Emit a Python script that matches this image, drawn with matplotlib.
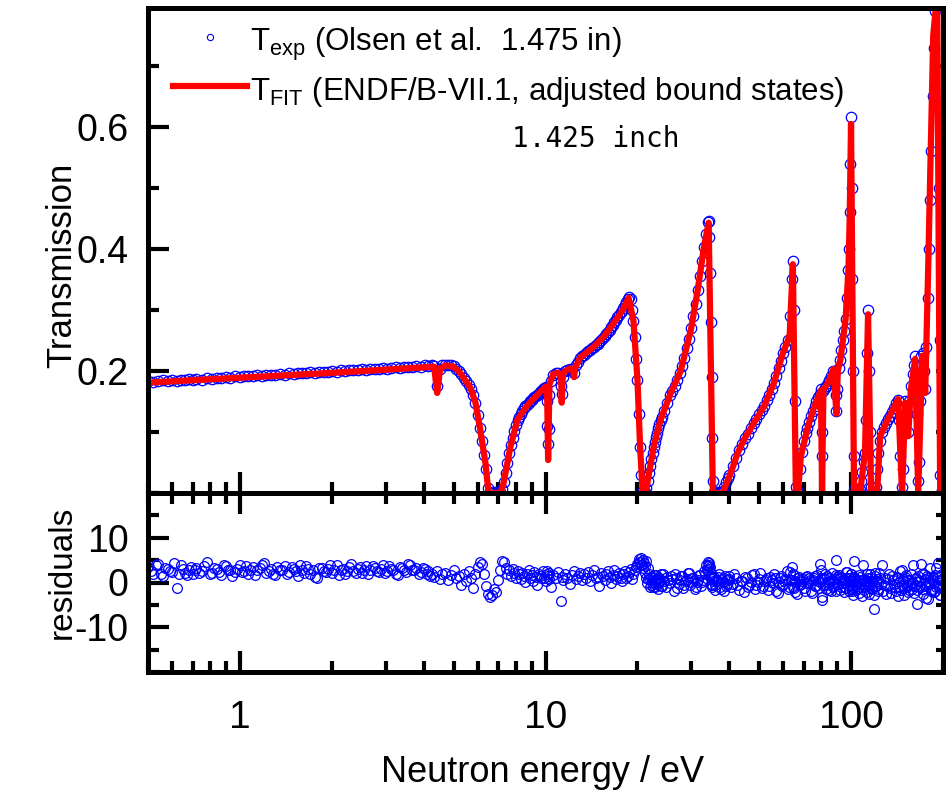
import matplotlib
matplotlib.use("Agg")
import matplotlib.pyplot as plt
from matplotlib.lines import Line2D
from matplotlib.ticker import MultipleLocator, FixedLocator, NullFormatter

plt.rcParams['font.family'] = ['Liberation Sans', 'DejaVu Sans']
plt.rcParams['mathtext.fontset'] = 'custom'
plt.rcParams['mathtext.rm'] = 'Liberation Sans'
plt.rcParams['mathtext.it'] = 'Liberation Sans:italic'
plt.rcParams['axes.unicode_minus'] = False

# measured transmission points (Olsen et al.), energies in eV
e_exp = [
    0.50, 0.52, 0.54, 0.56, 0.58, 0.60, 0.62, 0.64, 0.66, 0.68,
    0.70, 0.72, 0.75, 0.78, 0.81, 0.84, 0.87, 0.90, 0.93, 0.96,
    1.00, 1.03, 1.06, 1.10, 1.14, 1.18, 1.22, 1.26, 1.30, 1.35,
    1.40, 1.45, 1.50, 1.55, 1.60, 1.65, 1.70, 1.76, 1.82, 1.88,
    1.94, 2.00, 2.07, 2.14, 2.21, 2.28, 2.35, 2.43, 2.51, 2.59,
    2.67, 2.76, 2.85, 2.94, 3.03, 3.13, 3.23, 3.33, 3.44, 3.55,
    3.66, 3.78, 3.90, 4.02, 4.14, 4.26,
    4.3, 4.4, 4.5, 4.6, 4.7, 4.8, 4.9, 5.0, 5.1, 5.2,
    5.3, 5.4, 5.5, 5.6, 5.7, 5.8, 5.9, 6.0, 6.1, 6.2,
    6.3, 6.4, 6.5, 6.6, 6.7, 6.8, 6.9, 7.0, 7.1, 7.2,
    7.3, 7.4, 7.5, 7.6, 7.7, 7.8, 7.9, 8.0, 8.1, 8.2,
    8.3, 8.4, 8.5, 8.6, 8.7, 8.8, 8.9, 9.0, 9.1, 9.2,
    9.3, 9.4, 9.5, 9.6, 9.7, 9.8, 9.9, 10.0, 10.1, 10.15,
    10.2, 10.25, 10.3, 10.4, 10.6, 10.8, 11.0, 11.2, 11.3, 11.4,
    11.6, 11.8, 12.0, 12.2, 12.4, 12.6, 12.8, 13.0, 13.2, 13.4,
    13.6, 13.8, 14.0, 14.2, 14.4, 14.6, 14.8, 15.0, 15.2, 15.4,
    15.6, 15.8, 16.0, 16.2, 16.4, 16.6, 16.8, 17.0, 17.2, 17.4,
    17.6, 17.8, 18.0, 18.2, 18.4, 18.6, 18.8, 19.0, 19.2, 19.4,
    19.6, 19.8, 20.0, 20.2, 20.4, 20.6, 20.8, 21.0, 21.2, 21.4,
    21.6, 21.8, 22.0, 22.2, 22.4, 22.6, 22.8, 23.0, 23.2, 23.4,
    23.6, 23.8, 24.0, 24.5, 25.0, 25.5, 26.0, 26.5, 27.0, 27.5,
    28.0, 28.5, 29.0, 29.5, 30.0, 30.5, 31.0, 31.5, 32.0, 32.5,
    33.0, 33.5, 34.0, 34.2, 34.4, 34.6, 34.8, 35.0, 35.2, 35.4,
    35.6, 36.0, 36.5, 37.0, 37.5, 38.0, 38.5, 39.0, 39.5, 40.0,
    41, 42, 43, 44, 45, 46, 47, 48, 49, 50,
    51, 52, 53, 54, 55, 56, 57, 58, 59, 60,
    61, 62, 63, 64, 64.5, 65, 65.5, 66, 67, 68,
    69, 70, 71, 72, 73, 74, 75, 76, 77, 78,
    79, 79.7, 80.2, 80.6, 81, 82, 83, 84, 85, 86,
    87, 88, 89, 89.6, 90, 91, 92, 93, 94, 95,
    96, 97, 98, 98.5, 99, 99.5, 100, 100.5, 101, 101.5,
    102, 102.5, 103, 104, 105, 106, 107, 108, 109, 110,
    111, 112, 113, 113.7, 114.5, 115, 116, 117, 118, 119,
    120, 121, 122, 123, 124, 126, 128, 130, 132, 134,
    136, 138, 140, 142, 143.5, 145, 146.5, 147.5, 149, 150.5,
    152, 153.5, 155, 157, 159, 161, 162.5, 164, 165.5, 166.5,
    168, 170, 171.5, 173, 175, 176.5, 178, 179.5, 181, 183,
    185, 187, 189, 190, 192, 194, 195, 196, 198, 200,
]

t_exp = [
    0.184, 0.182, 0.183, 0.185, 0.183, 0.185, 0.184, 0.186, 0.185, 0.187,
    0.186, 0.187, 0.186, 0.188, 0.187, 0.189, 0.188, 0.190, 0.189, 0.191,
    0.190, 0.192, 0.191, 0.192, 0.193, 0.192, 0.194, 0.193, 0.194, 0.195,
    0.194, 0.196, 0.195, 0.197, 0.196, 0.197, 0.198, 0.197, 0.199, 0.198,
    0.199, 0.200, 0.199, 0.201, 0.200, 0.201, 0.202, 0.201, 0.203, 0.202,
    0.203, 0.204, 0.203, 0.205, 0.204, 0.205, 0.206, 0.205, 0.207, 0.206,
    0.207, 0.208, 0.207, 0.209, 0.208, 0.209,
    0.208, 0.176, 0.203, 0.209, 0.210, 0.209, 0.209, 0.208, 0.204, 0.200,
    0.195, 0.189, 0.183, 0.177, 0.170, 0.160, 0.148, 0.128, 0.107, 0.085,
    0.062, 0.040, 0.008, 0.002, 0.000, 0.001, 0.000, 0.002, 0.001, 0.006,
    0.018, 0.033, 0.049, 0.066, 0.079, 0.090, 0.101, 0.111, 0.120, 0.125,
    0.130, 0.135, 0.139, 0.142, 0.145, 0.147, 0.150, 0.152, 0.155, 0.157,
    0.159, 0.161, 0.163, 0.166, 0.168, 0.170, 0.172, 0.174, 0.150, 0.110,
    0.080, 0.105, 0.160, 0.183, 0.193, 0.196, 0.197, 0.175, 0.162, 0.190,
    0.200, 0.202, 0.204, 0.203, 0.196, 0.209, 0.215, 0.221, 0.224, 0.227,
    0.230, 0.232, 0.235, 0.238, 0.240, 0.243, 0.245, 0.248, 0.251, 0.254,
    0.257, 0.261, 0.264, 0.268, 0.272, 0.276, 0.280, 0.284, 0.288, 0.292,
    0.296, 0.299, 0.303, 0.308, 0.313, 0.318, 0.321, 0.318, 0.300, 0.282,
    0.255, 0.220, 0.185, 0.130, 0.076, 0.030, 0.003, 0.000, 0.001, 0.008,
    0.020, 0.032, 0.045, 0.056, 0.066, 0.076, 0.084, 0.092, 0.099, 0.106,
    0.113, 0.120, 0.125, 0.135, 0.148, 0.160, 0.168, 0.176, 0.185, 0.196,
    0.208, 0.222, 0.238, 0.253, 0.270, 0.290, 0.310, 0.333, 0.355, 0.380,
    0.403, 0.425, 0.445, 0.446, 0.420, 0.360, 0.280, 0.190, 0.090, 0.020,
    0.002, 0.000, 0.001, 0.000, 0.002, 0.004, 0.010, 0.018, 0.025, 0.030,
    0.044, 0.057, 0.070, 0.081, 0.090, 0.097, 0.106, 0.114, 0.122, 0.129,
    0.136, 0.142, 0.152, 0.161, 0.171, 0.181, 0.192, 0.205, 0.217, 0.230,
    0.240, 0.250, 0.290, 0.350, 0.380, 0.300, 0.150, 0.010, 0.002, 0.040,
    0.068, 0.085, 0.098, 0.107, 0.117, 0.126, 0.135, 0.143, 0.150, 0.157,
    0.163, 0.170, 0.060, 0.100, 0.168, 0.172, 0.176, 0.180, 0.186, 0.192,
    0.200, 0.195, 0.160, 0.135, 0.170, 0.205, 0.218, 0.235, 0.250, 0.266,
    0.285, 0.320, 0.365, 0.400, 0.460, 0.540, 0.616, 0.500, 0.350, 0.200,
    0.060, 0.005, 0.000, 0.001, 0.000, 0.002, 0.005, 0.020, 0.035, 0.050,
    0.066, 0.120, 0.230, 0.300, 0.200, 0.100, 0.010, 0.000, 0.001, 0.000,
    0.002, 0.010, 0.040, 0.065, 0.085, 0.100, 0.108, 0.115, 0.121, 0.127,
    0.133, 0.140, 0.147, 0.152, 0.120, 0.060, 0.010, 0.040, 0.110, 0.150,
    0.130, 0.100, 0.150, 0.175, 0.195, 0.210, 0.225, 0.130, 0.020, 0.050,
    0.150, 0.225, 0.230, 0.200, 0.170, 0.240, 0.320, 0.400, 0.480, 0.560,
    0.650, 0.730, 0.790, 0.820, 0.850, 0.500, 0.250, 0.030, 0.005, 0.020,
]

# normalised residuals of the fit at the same energies
resid = [
    3.5, 2.0, 4.2, 1.5, 3.0, 2.4, -1.3, 3.8, 2.2, 2.9,
    1.8, 3.3, 2.6, 4.5, 2.1, 3.0, 1.6, 3.6, 2.8, 2.3,
    3.9, 2.5, 1.9, 3.4, 2.7, 4.0, 2.2, 3.1, 1.7, 2.9,
    3.6, 2.4, 3.0, 1.5, 2.8, 3.7, 2.0, 1.2, 3.3, 2.6,
    3.1, 2.2, 3.8, 2.7, 1.9, 3.4, 2.5, 3.0, 2.1, 3.6,
    2.8, 3.3, 2.4, 3.9, 2.6, 3.1, 2.0, 3.5, 2.9, 4.1,
    2.7, 3.2, 2.3, 3.0, 2.5, 1.8,
    1.2, 2.5, 0.8, 1.9, 2.2, 0.5, 1.6, 2.8, 0.9, 1.4,
    -0.5, 1.8, 0.3, 2.6, 1.1, -1.2, 2.0, 3.5, 4.5, 4.2,
    2.0, -0.8, -2.5, -3.2, -2.8, -1.5, -2.2, 0.5, 2.8, 4.8,
    4.5, 3.2, 2.0, 2.8, 1.5, 3.0, 2.2, 1.0, 2.5, 1.8,
    0.8, 2.2, 1.5, 0.2, 1.9, 2.8, 1.0, 1.6, 0.4, 2.3,
    1.2, -0.6, 2.0, 1.4, 0.9, 2.5, 1.1, 0.3, 1.8, 2.6,
    1.5, 0.7, 2.1, -1.0, 1.6, 0.9, 2.4, -4.2, 1.3, 0.6,
    2.0, 1.1, -0.4, 1.7, 2.6, 0.8, 1.4, 2.2, 0.5, 1.9,
    1.0, 2.4, 0.3, 1.6, 2.8, 0.9, 1.3, -0.8, 2.1, 1.5,
    0.6, 1.9, 2.5, 1.2, -0.2, 1.7, 2.9, 0.8, 1.4, 2.2,
    1.1, 0.4, 1.8, 2.6, 1.0, 1.5, 2.3, 3.0, 0.7, 1.9,
    2.8, 3.5, 4.2, 5.2, 4.6, 3.9, 5.0, 4.3, 3.6, 4.8,
    3.2, 2.0, 0.8, -0.5, 1.2, 0.3, -1.0, 1.6, 0.5, -0.3,
    0.9, 1.8, -0.8, 0.4, 1.3, -0.2, 0.7, 2.0, -1.2, 0.6,
    1.4, -0.5, 0.8, 2.2, 0.1, 1.0, -0.9, 0.5, 1.7, 0.2,
    2.6, 3.8, 4.6, 4.0, 3.0, 1.5, -0.4, 0.8, -1.0, 0.3,
    1.2, -0.6, 0.5, 1.8, -1.4, 0.2, 1.0, -0.8, 0.6, 1.5,
    -0.3, 0.9, -1.6, 0.4, 1.3, -0.9, 0.1, 1.9, -0.5, 0.7,
    -1.2, 0.3, 1.1, -0.7, 0.6, 2.0, -1.8, 0.2, 1.4, -0.4,
    0.8, -1.5, 2.3, 0.5, -0.9, 1.6, -2.2, 0.1, 1.0, -0.6,
    0.4, -1.3, 1.2, -0.2, 0.9, -2.0, 0.6, 1.5, -0.8, 0.3,
    4.2, 0.7, -3.8, 1.1, -0.5, 2.0, -1.4, 0.2, 0.9, -1.9,
    0.5, -0.8, 1.7, 5.1, -0.3, 0.8, -1.6, 1.2, -0.1, 0.6,
    -1.2, 2.4, 0.3, -2.0, 1.0, -0.6, 1.8, -1.5, 0.4, -0.9,
    0.9, 4.7, -0.4, -1.7, 0.6, -2.3, 1.3, -0.2, -3.1, 0.8,
    -1.0, 0.5, 1.9, -0.7, -2.5, 0.2, 1.1, -1.4, 0.4, -6.0,
    2.2, -0.8, 0.3, -1.9, 1.0, 4.0, -0.5, -2.6, 0.7, -1.2,
    1.5, -0.3, -2.0, 0.9, -1.1, 2.6, -0.6, 0.4, -2.8, 1.2,
    -0.9, 0.5, -1.7, 1.8, -0.2, -2.4, 0.8, -4.9, 1.4, -1.0,
    0.3, 4.2, -1.5, 2.0, -0.7, -3.4, 1.1, -0.4, 3.2, -1.8,
    0.6, -2.2, 1.7, -0.9, 4.4, -1.3, 0.5, -2.7, 1.9, -0.6,
]

# further residual points lying between the energies above
e_res_more = [
    0.51, 0.53, 0.55, 0.57, 0.59, 0.61, 0.63, 0.65, 0.67, 0.69,
    0.71, 0.735, 0.765, 0.795, 0.825, 0.855, 0.885, 0.915, 0.945, 0.98,
    1.015, 1.045, 1.08, 1.12, 1.16, 1.20, 1.24, 1.28, 1.325, 1.375,
    1.425, 1.475, 1.525, 1.575, 1.625, 1.675, 1.73, 1.79, 1.85, 1.91,
    1.97, 2.035, 2.105, 2.175, 2.245, 2.315, 2.39, 2.47, 2.55, 2.63,
    2.715, 2.805, 2.895, 2.985, 3.08, 3.18, 3.28, 3.385, 3.495, 3.605,
    3.72, 3.84, 3.96, 4.08, 4.2,
    20.3, 20.5, 20.7, 20.9, 21.1, 21.3, 21.5, 21.7, 21.9, 22.1,
    22.3, 22.5, 22.7, 22.9, 23.1, 23.3, 23.5, 23.7, 23.9, 24.25,
    24.75, 25.25, 25.75, 26.25, 26.75, 27.25, 27.75, 28.25, 28.75, 29.25,
    29.75, 30.25, 30.75, 31.25, 31.75, 32.25, 32.75, 33.25, 33.75, 34.1,
    34.3, 34.5, 34.7, 34.9, 35.1, 35.3, 35.8, 36.25, 36.75, 37.25,
    37.75, 38.25, 38.75, 39.25, 39.75, 40.5, 41.5, 42.5, 43.5, 44.5,
    45.5, 46.5, 47.5, 48.5, 49.5, 50.5, 51.5, 52.5, 53.5, 54.5,
    55.5, 56.5, 57.5, 58.5, 59.5, 60.5, 61.5, 62.5, 63.5, 64.2,
    64.8, 65.2, 65.8, 66.5, 67.5, 68.5, 69.5, 70.5, 71.5, 72.5,
    73.5, 74.5, 75.5, 76.5, 77.5, 78.5, 79.3, 80.0, 80.4, 81.5,
    82.5, 83.5, 84.5, 85.5, 86.5, 87.5, 88.5, 89.3, 89.8, 90.5,
    91.5, 92.5, 93.5, 94.5, 95.5, 96.5, 97.5, 98.2, 98.8, 99.2,
    99.8, 100.2, 100.8, 101.2, 101.8, 102.2, 103.5, 104.5, 105.5, 106.5,
    107.5, 108.5, 109.5, 110.5, 111.5, 112.5, 113.3, 114, 115.5, 116.5,
    117.5, 118.5, 119.5, 120.5, 121.5, 122.5, 123.5, 125, 127, 129,
    131, 133, 135, 137, 139, 141, 143, 144, 146, 147,
    148, 149.5, 151, 152.5, 154, 156, 158, 160, 162, 163,
    165, 167, 169, 171, 172, 174, 176, 177, 179, 180,
    182, 184, 186, 188, 189.5, 191, 193, 195.5, 197, 199,
]
resid_more = [
    2.6, 3.9, 1.8, 3.2, 2.5, 4.4, 2.0, 3.0, 1.6, 3.5,
    2.9, 2.2, 3.7, 1.9, 3.3, 2.4, 4.0, 2.7, 1.5, 3.1,
    2.3, 3.6, 2.8, 1.7, 3.2, 4.3, 2.6, 2.0, 3.4, 2.9,
    1.8, 3.5, 2.5, 3.9, 2.1, 3.0, 2.7, 0.9, 3.3, 2.4,
    3.8, 2.9, 1.6, 3.1, 2.6, 4.1, 2.2, 3.4, 2.8, 1.9,
    3.6, 2.5, 3.0, 2.1, 3.7, 2.7, 1.7, 3.2, 2.4, 3.9,
    2.8, 1.9, 3.3, 2.0, 1.4,
    4.5, 5.5, 4.0, 3.2, 2.1, 1.0, -0.2, 0.8, -0.9, 1.3,
    0.2, -1.1, 1.6, -0.4, 0.7, -1.5, 1.1, 0.3, -0.7, 1.8,
    -1.0, 0.5, 1.4, -1.8, 0.9, -0.3, 1.5, -1.2, 0.4, 2.1,
    -0.6, 1.0, -1.4, 0.2, 1.7, -0.8, 0.6, 1.9, 2.8, 3.6,
    4.3, 3.4, 2.2, 1.0, -0.5, 0.9, -1.6, 0.4, 1.2, -0.9,
    0.7, -1.9, 1.5, -0.3, 0.8, -1.1, 1.8, -0.5, 0.3, -2.1,
    1.0, -0.6, 1.6, -1.4, 0.2, 2.2, -0.8, 0.5, -1.7, 1.3,
    -0.2, 0.9, -2.3, 1.1, -0.7, 0.4, 2.5, -1.0, 0.6, 3.5,
    1.9, -1.3, 0.3, -2.6, 1.2, -0.4, 0.8, -1.9, 1.5, -0.1,
    0.6, -2.4, 1.0, -0.8, 1.7, -1.2, 0.2, 2.9, -3.2, 0.9,
    -0.5, 1.4, -1.6, 0.3, 2.1, -0.9, 0.7, -2.0, 1.2, -0.3,
    1.6, -1.1, 0.5, -2.2, 0.9, 2.4, -0.7, 1.1, -1.5, 0.4,
    2.0, -0.4, -1.8, 0.8, -2.7, 1.3, -0.6, 0.2, -1.3, 1.7,
    -0.9, 0.6, 3.8, -1.6, 0.3, -2.1, 1.0, -0.5, 1.9, -1.2,
    0.4, -2.9, 1.5, -0.8, 0.7, -1.4, 2.2, -0.3, -1.9, 0.9,
    -0.7, 1.8, -2.4, 0.5, -1.0, 1.3, -3.0, 0.1, -1.6, 2.7,
    0.8, -1.2, 1.6, -0.5, -2.2, 0.6, -1.4, 3.9, -0.8, 1.1,
    -1.7, 0.3, -0.9, 2.0, -2.6, 0.7, -0.3, 1.5, -3.6, 0.2,
    1.2, -1.5, 0.9, -2.0, 3.3, -0.6, 1.4, -2.8, 0.5, -1.1,
]

# fitted curve (ENDF/B-VII.1 with adjusted bound states)
e_fit = [0.5, 1.0, 2.0, 4.0, 4.32, 4.42, 4.52, 4.7, 5.0, 5.26,
         5.68, 5.9, 6.12, 6.36, 6.51, 7.12, 7.28, 7.68, 8.09, 8.73,
         9.41, 10.0, 10.12, 10.2, 10.3, 10.6, 11.0, 11.25, 11.3, 11.4,
         11.6, 12.0, 12.3, 12.4, 12.5, 12.7, 13.0, 14.4, 15.5, 16.7,
         17.9, 18.7, 19.4, 20.0, 20.4, 20.8, 21.3, 21.6, 22.6, 23.8,
         25.7, 27.7, 29.9, 31.5, 33.0, 34.2, 35.3, 38.0, 40.4, 42.6,
         44.6, 48.1, 51.8, 55.9, 59.9, 62.1, 63.0, 64.5, 66.0, 67.0,
         68.5, 72.2, 75.6, 79.7, 80.4, 81.2, 84.1, 87.6, 89.6, 90.5,
         92.4, 96.0, 98.1, 99.0, 100.0, 102.3, 107.0, 111.1, 113.7, 116.3,
         121.7, 124.5, 132.2, 142.6, 146.9, 150.4, 153.8, 157.0, 162.2, 165.9,
         171.0, 174.9, 178.9, 185.8, 191.4, 195.8, 200.0]
t_fit = [0.181, 0.189, 0.197, 0.206, 0.207, 0.164, 0.204, 0.209, 0.207, 0.197,
         0.172, 0.148, 0.103, 0.049, 0.0, 0.0, 0.015, 0.076, 0.120, 0.144,
         0.161, 0.174, 0.170, 0.054, 0.178, 0.195, 0.197, 0.190, 0.148, 0.195,
         0.200, 0.204, 0.203, 0.190, 0.205, 0.212, 0.222, 0.240, 0.256, 0.278,
         0.300, 0.320, 0.283, 0.185, 0.076, 0.0, 0.0, 0.020, 0.076, 0.120,
         0.164, 0.200, 0.267, 0.333, 0.403, 0.443, 0.0, 0.0, 0.033, 0.066,
         0.087, 0.115, 0.141, 0.180, 0.230, 0.250, 0.260, 0.375, 0.0, 0.0,
         0.060, 0.108, 0.140, 0.168, 0.0, 0.170, 0.180, 0.203, 0.130, 0.200,
         0.220, 0.285, 0.368, 0.450, 0.605, 0.0, 0.0, 0.066, 0.293, 0.0,
         0.0, 0.093, 0.121, 0.154, 0.0, 0.148, 0.093, 0.170, 0.220, 0.0,
         0.225, 0.164, 0.370, 0.750, 0.820, 0.0, 0.020]

W_PX, H_PX = 947, 797
fig = plt.figure(figsize=(W_PX / 100, H_PX / 100), dpi=100)
ax1 = fig.add_axes([148 / W_PX, (H_PX - 493) / H_PX, 795 / W_PX, 485 / H_PX])
ax2 = fig.add_axes([148 / W_PX, (H_PX - 672) / H_PX, 795 / W_PX, 179 / H_PX], sharex=ax1)

ax1.plot(e_exp, t_exp, ls='none', marker='o', ms=7.5, mfc='none', mec='blue', mew=0.9)
ax1.plot(e_fit, t_fit, color='red', lw=4.5)
ax2.plot(e_exp, resid, ls='none', marker='o', ms=7, mfc='none', mec='blue', mew=0.9)
ax2.plot(e_res_more, resid_more, ls='none', marker='o', ms=7, mfc='none', mec='blue', mew=0.9)

ax1.set_xscale('log')
ax1.set_xlim(0.5, 200)
ax1.set_ylim(0, 0.795)
ax1.yaxis.set_major_locator(FixedLocator([0.2, 0.4, 0.6]))
ax1.yaxis.set_minor_locator(MultipleLocator(0.1))
ax2.set_ylim(-20, 20)
ax2.yaxis.set_major_locator(FixedLocator([-10, 0, 10]))
ax2.yaxis.set_minor_locator(MultipleLocator(5))
ax2.set_xticks([1, 10, 100])
ax2.set_xticklabels(['1', '10', '100'])
ax2.xaxis.set_minor_formatter(NullFormatter())

for ax in (ax1, ax2):
    ax.tick_params(which='both', direction='in', width=3)
    ax.tick_params(which='major', length=15)
    ax.tick_params(which='minor', length=8)
    ax.tick_params(axis='y', which='both', left=True, right=False, labelsize=27, pad=14)
    for sp in ax.spines.values():
        sp.set_linewidth(3.6)
ax1.tick_params(axis='x', which='both', top=False, bottom=True, labelbottom=False)
ax2.tick_params(axis='x', which='both', top=True, bottom=True, labelbottom=True,
                labelsize=28, pad=20)

# short ticks on the right side
for ax, step in ((ax1, 0.1), (ax2, 5)):
    sec = ax.secondary_yaxis('right')
    sec.yaxis.set_major_locator(MultipleLocator(step))
    sec.tick_params(direction='in', length=5, width=3, labelright=False)
    sec.spines['right'].set_linewidth(3.6)


def axfrac(px, py):
    return (px - 148) / 795, (493 - py) / 485


# legend drawn by hand
mx, my = axfrac(210, 37)
ax1.add_line(Line2D([mx], [my], marker='o', ms=4.5, mfc='none', mec='blue', mew=0.8,
                    transform=ax1.transAxes, clip_on=False))
x0, ly = axfrac(173, 86)
x1, _ = axfrac(247, 86)
ax1.add_line(Line2D([x0, x1], [ly, ly], color='red', lw=4.5, transform=ax1.transAxes,
                    clip_on=False))
ax1.text(*axfrac(250, 51), r'T$_{\mathrm{exp}}$ (Olsen et al.  1.475 in)',
         transform=ax1.transAxes, fontsize=22.5, va='baseline')
ax1.text(*axfrac(250, 100), r'T$_{\mathrm{FIT}}$ (ENDF/B-VII.1, adjusted bound states)',
         transform=ax1.transAxes, fontsize=22.5, va='baseline')
ax1.text(*axfrac(512, 147), '1.425 inch', transform=ax1.transAxes,
         fontsize=20, va='baseline', family='DejaVu Sans Mono')

fig.text(62 / W_PX, 1 - 265 / H_PX, 'Transmission', rotation=90, ha='center',
         va='center', fontsize=25)
fig.text(62 / W_PX, 1 - 572 / H_PX, 'residuals', rotation=90, ha='center',
         va='center', fontsize=24)
fig.text(543 / W_PX, 1 - 772 / H_PX, 'Neutron energy / eV', ha='center',
         va='center', fontsize=26)

fig.savefig('out.png', dpi=100)
